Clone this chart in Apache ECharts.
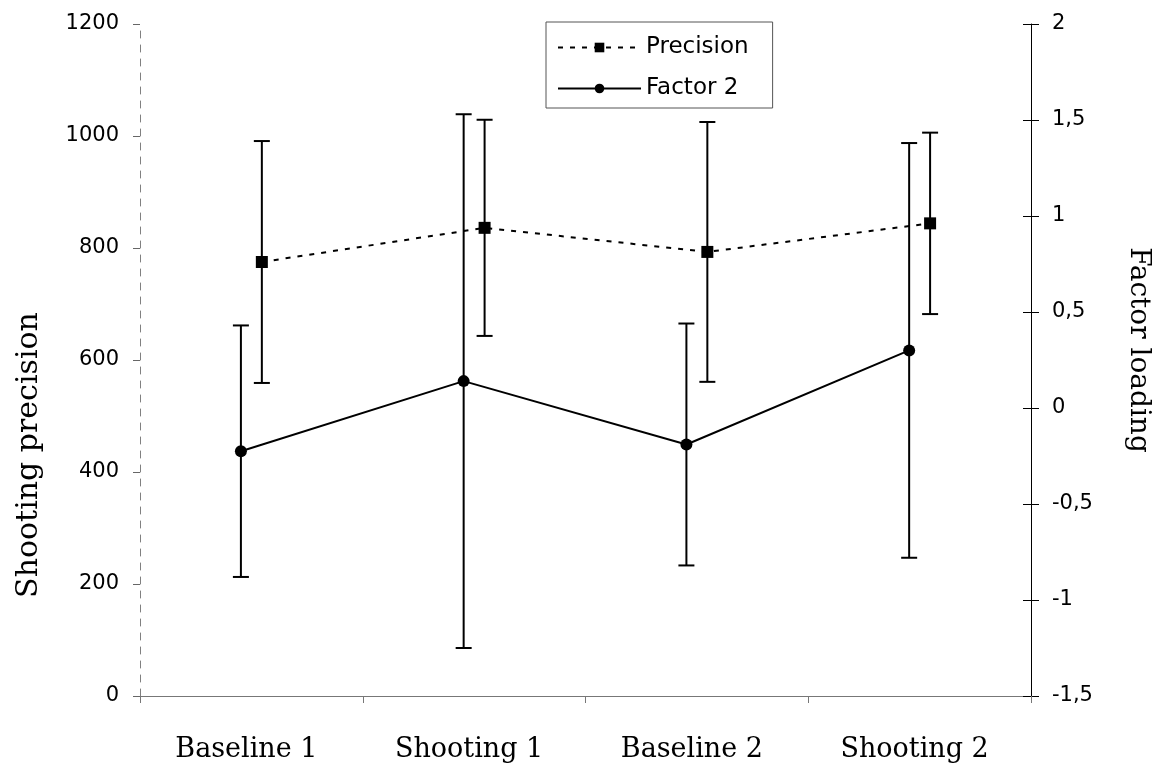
<!DOCTYPE html>
<html>
<head>
<meta charset="utf-8">
<title>Shooting precision and Factor 2</title>
<script src="https://cdn.jsdelivr.net/npm/echarts@6/dist/echarts.min.js"></script>
<style>
  html, body { margin: 0; padding: 0; background: #fff; }
  #chart { width: 1173px; height: 763px; }
</style>
</head>
<body>
<div id="chart"></div>
<script>
// Sessions on the horizontal axis
const categories = ['Baseline 1', 'Shooting 1', 'Baseline 2', 'Shooting 2'];

// Shooting precision (left axis): mean and standard deviation per session
const precisionMean = [775, 836, 793, 844];
const precisionSD = [216, 193, 232, 162];

// Factor 2 loading (right axis): mean and standard deviation per session
const factorMean = [-0.225, 0.14, -0.19, 0.30];
const factorSD = [0.655, 1.39, 0.63, 1.08];

// Horizontal nudge (in category units) so the two series' bars don't overlap
const NUDGE = 0.047;

const xPos = (i, dir) => i + 0.5 + dir * NUDGE;
const lineData = (mean, dir) => mean.map((v, i) => [xPos(i, dir), v]);
const barData = (mean, sd, dir) => mean.map((v, i) => [xPos(i, dir), v - sd[i], v + sd[i]]);

function errorBarItem(params, api) {
  const x = api.value(0);
  const lo = api.coord([x, api.value(1)]);
  const hi = api.coord([x, api.value(2)]);
  const cap = 8;
  const style = { stroke: '#000', lineWidth: 2 };
  return {
    type: 'group',
    children: [
      { type: 'line', shape: { x1: lo[0], y1: lo[1], x2: hi[0], y2: hi[1] }, style },
      { type: 'line', shape: { x1: lo[0] - cap, y1: lo[1], x2: lo[0] + cap, y2: lo[1] }, style },
      { type: 'line', shape: { x1: hi[0] - cap, y1: hi[1], x2: hi[0] + cap, y2: hi[1] }, style }
    ]
  };
}

const sans = 'DejaVu Sans';
const serif = 'DejaVu Serif';
const plainNumber = v => String(v);
const commaDecimal = v => String(v).replace('.', ',');

const chart = echarts.init(document.getElementById('chart'), null, { renderer: 'canvas' });

chart.setOption({
  backgroundColor: '#fff',
  animation: false,
  grid: { left: 140, right: 142, top: 24, bottom: 67, containLabel: false },
  legend: {
    data: ['Precision', 'Factor 2'],
    orient: 'vertical',
    left: 546,
    top: 22,
    padding: [14, 24, 8, 11],
    itemGap: 18,
    itemWidth: 83,
    itemHeight: 12,
    borderColor: '#555',
    borderWidth: 1,
    backgroundColor: '#fff',
    textStyle: { fontFamily: sans, fontSize: 23, color: '#000', lineHeight: 22 }
  },
  xAxis: [
    {
      type: 'category',
      data: categories,
      boundaryGap: true,
      axisLine: { lineStyle: { color: '#777', width: 1 } },
      axisTick: { show: true, inside: false, length: 7, lineStyle: { color: '#777' } },
      axisLabel: {
        fontFamily: serif, fontSize: 27, color: '#000', margin: 40,
        padding: [0, 10, 0, 0]
      },
      splitLine: { show: false }
    },
    {
      type: 'value',
      min: 0,
      max: 4,
      show: false
    }
  ],
  yAxis: [
    {
      type: 'value',
      position: 'left',
      min: 0,
      max: 1200,
      interval: 200,
      name: 'Shooting precision',
      nameLocation: 'middle',
      nameRotate: 90,
      nameGap: 96,
      nameTextStyle: { fontFamily: serif, fontSize: 30, color: '#000', padding: [0, 190, 0, 0] },
      axisLine: { show: true, lineStyle: { color: '#808080', width: 1, type: [7, 7] } },
      axisTick: { show: true, inside: false, length: 7, lineStyle: { color: '#666' } },
      axisLabel: { fontFamily: sans, fontSize: 21, color: '#000', margin: 21, formatter: plainNumber },
      splitLine: { show: false }
    },
    {
      type: 'value',
      position: 'right',
      min: -1.5,
      max: 2,
      interval: 0.5,
      name: 'Factor loading',
      nameLocation: 'middle',
      nameRotate: -90,
      nameGap: 93,
      nameTextStyle: { fontFamily: serif, fontSize: 28, color: '#000', padding: [0, 20, 0, 0] },
      axisLine: { show: true, lineStyle: { color: '#000', width: 1 } },
      axisTick: { show: true, inside: false, length: 8, lineStyle: { color: '#000' } },
      axisLabel: { fontFamily: sans, fontSize: 21, color: '#000', margin: 21, formatter: commaDecimal },
      splitLine: { show: false }
    },
    {
      // inner half of the right axis ticks, so they cross the axis line
      type: 'value',
      position: 'right',
      min: -1.5,
      max: 2,
      interval: 0.5,
      axisLine: { show: false },
      axisTick: { show: true, inside: true, length: 8, lineStyle: { color: '#000' } },
      axisLabel: { show: false },
      splitLine: { show: false }
    }
  ],
  series: [
    {
      name: 'Precision bars',
      type: 'custom',
      xAxisIndex: 1,
      yAxisIndex: 0,
      renderItem: errorBarItem,
      encode: { x: 0, y: [1, 2] },
      data: barData(precisionMean, precisionSD, 1),
      z: 1
    },
    {
      name: 'Factor 2 bars',
      type: 'custom',
      xAxisIndex: 1,
      yAxisIndex: 1,
      renderItem: errorBarItem,
      encode: { x: 0, y: [1, 2] },
      data: barData(factorMean, factorSD, -1),
      z: 1
    },
    {
      name: 'Precision',
      type: 'line',
      xAxisIndex: 1,
      yAxisIndex: 0,
      data: lineData(precisionMean, 1),
      symbol: 'rect',
      symbolSize: 12,
      itemStyle: { color: '#000' },
      lineStyle: { color: '#000', width: 2, type: [5, 7] },
      z: 3
    },
    {
      name: 'Factor 2',
      type: 'line',
      xAxisIndex: 1,
      yAxisIndex: 1,
      data: lineData(factorMean, -1),
      symbol: 'circle',
      symbolSize: 12,
      itemStyle: { color: '#000' },
      lineStyle: { color: '#000', width: 2, type: 'solid' },
      z: 3
    }
  ]
});
</script>
</body>
</html>
